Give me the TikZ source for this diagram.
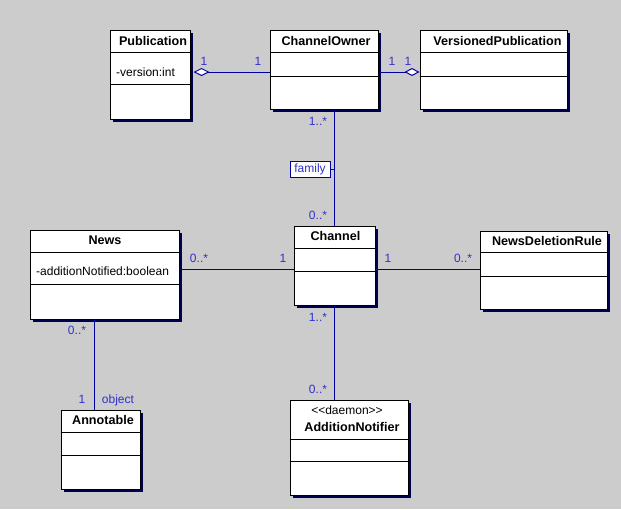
\documentclass[tikz,border=0pt]{standalone}
\usepackage{fontspec}
\setmainfont{Liberation Sans}
\usetikzlibrary{shadows,arrows.meta,calc}
\definecolor{bg}{RGB}{204,204,204}
\definecolor{shadowc}{RGB}{0,0,80}
\definecolor{linec}{RGB}{0,0,160}
\definecolor{labc}{RGB}{48,48,204}
\begin{document}
\begin{tikzpicture}[x=1pt,y=-1pt,
  classbox/.style={draw=black, fill=white, line width=1pt, inner sep=0pt,
    drop shadow={shadow xshift=3pt, shadow yshift=-3pt, fill=shadowc, opacity=1}},
  ctitle/.style={font=\fontsize{12.6}{14}\selectfont\bfseries, inner sep=0pt},
  attr/.style={font=\fontsize{12}{14}\selectfont, inner sep=0pt, anchor=west},
  mult/.style={font=\fontsize{12}{14}\selectfont, text=labc, inner sep=0pt, text depth=0pt},
  assoc/.style={draw=linec, line width=1pt},
  sep/.style={draw=black, line width=1pt},
  agg/.style={assoc, {Diamond[open, fill=white, length=16pt, width=8pt]}-}
]
\useasboundingbox (0,0) rectangle (621,509);
\fill[bg] (0,0) rectangle (621,509);

% classes
\node[classbox, minimum width=80pt, minimum height=89pt] (pub) at (150,74.5) {};
\node[classbox, minimum width=108pt, minimum height=79pt] (co) at (324,69.5) {};
\node[classbox, minimum width=147pt, minimum height=79pt] (vp) at (493.5,69.5) {};
\node[classbox, minimum width=149pt, minimum height=89pt] (news) at (104.5,274.5) {};
\node[classbox, minimum width=81pt, minimum height=79pt] (ch) at (334.5,265.5) {};
\node[classbox, minimum width=127pt, minimum height=78pt] (ndr) at (543.5,270) {};
\node[classbox, minimum width=79pt, minimum height=79pt] (ann) at (100.5,449.5) {};
\node[classbox, minimum width=118pt, minimum height=95pt] (an) at (349,447.5) {};

% compartments
\foreach \n/\a/\b in {pub/23/55, co/23/47, vp/23/47, news/23/55, ch/23/46, ndr/22/46, ann/23/46, an/40/62}{
  \draw[sep] ($(\n.north west)+(0,\a)$) -- ($(\n.north east)+(0,\a)$);
  \draw[sep] ($(\n.north west)+(0,\b)$) -- ($(\n.north east)+(0,\b)$);
}

% titles
\node[ctitle] (pubT) at (153,40.5) {Publication};
\node[ctitle] (coT) at (326,40.5) {ChannelOwner};
\node[ctitle] (vpT) at (497.5,40.5) {VersionedPublication};
\node[ctitle] (newsT) at (105,240.5) {News};
\node[ctitle] (chT) at (335.5,236) {Channel};
\node[ctitle] (ndrT) at (547,240.5) {NewsDeletionRule};
\node[ctitle] (annT) at (103,420) {Annotable};
\node[font=\fontsize{12}{14}\selectfont, inner sep=0pt] (anS) at (347,410) {<\kern0pt<daemon>\kern0pt>};
\node[ctitle] (anT) at (352,426.5) {AdditionNotifier};

% attributes
\node[attr] (pubA) at (116,72) {-version:int};
\node[attr] (newsA) at (36,271) {-additionNotified:boolean};

% associations
\draw[agg] ($(pub.east)+(3,-2.5)$) -- ($(co.west)+(0,2.5)$);
\draw[assoc, -{Diamond[open, fill=white, length=15pt, width=8pt]}] ($(co.east)+(0,2.5)$) -- ($(vp.west)+(0,2.5)$);
\draw[assoc] (ch.north |- co.south) -- (ch.north);
\draw[assoc] ($(news.east)+(0,-5.5)$) -- ($(ch.west)+(0,3.5)$);
\draw[assoc] ($(ch.east)+(0,3.5)$) -- ($(ndr.west)+(0,-1)$);
\draw[assoc] ($(news.south)+(-10.5,0)$) -- ($(ann.north)+(-6.5,0)$);
\draw[assoc] (ch.south) -- (ch.south |- an.north);

% association name
\node[draw=linec, fill=white, line width=1pt, minimum width=40pt, minimum height=16pt, inner sep=0pt,
  font=\fontsize{12}{14}\selectfont, text=labc] (fam) at (310,169) {family};
\draw[assoc] (fam.east) -- (fam.east -| ch.north);

% multiplicities
\node[mult] (m1) at (204,61) {1};
\node[mult] (m2) at (258,61) {1};
\node[mult] (m3) at (392,61) {1};
\node[mult] (m4) at (408,61) {1};
\node[mult] (m5) at (318,121) {1..*};
\node[mult] (m6) at (318,215) {0..*};
\node[mult] (m7) at (199,258) {0..*};
\node[mult] (m8) at (283,258) {1};
\node[mult] (m9) at (388,258) {1};
\node[mult] (m10) at (463,258) {0..*};
\node[mult] (m11) at (77,330) {0..*};
\node[mult] (m12) at (82,399) {1};
\node[mult] (m13) at (118,399) {object};
\node[mult] (m14) at (318,317) {1..*};
\node[mult] (m15) at (318,389) {0..*};
\end{tikzpicture}
\end{document}
